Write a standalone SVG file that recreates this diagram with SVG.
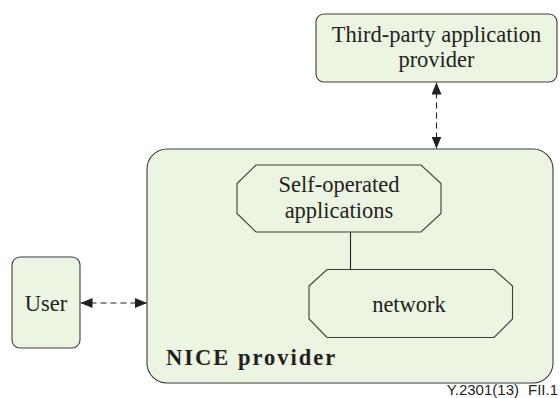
<svg xmlns="http://www.w3.org/2000/svg" width="560" height="398" viewBox="0 0 560 398">
  <defs>
    <marker id="arrow" viewBox="0 0 12 10" refX="12" refY="5" markerWidth="12" markerHeight="10" markerUnits="userSpaceOnUse" orient="auto-start-reverse">
      <path d="M0,0 L12,5 L0,10 Z" fill="#231f20"/>
    </marker>
    <style>
      .box { fill: #ecf5e1; stroke: #3c3c3c; stroke-width: 1.1; }
      .serif { font-family: 'Liberation Serif', 'Times New Roman', serif; }
      .lbl { font-size: 22.5px; fill: #231f20; text-anchor: middle; }
      .bold { font-size: 22.5px; font-weight: bold; fill: #231f20; letter-spacing: 2px; }
      .link { fill: none; stroke: #231f20; stroke-width: 1.1; }
      .dash { stroke-dasharray: 6 4; }
      .foot { font-family: 'Liberation Sans', Arial, sans-serif; font-size: 15px; fill: #231f20; text-anchor: end; }
    </style>
  </defs>

  <g id="nice-provider">
    <rect class="box" x="147" y="149" width="406" height="234" rx="20" ry="20"/>
    <text class="serif bold" x="166" y="365">NICE provider</text>
  </g>

  <g id="third-party">
    <rect class="box" x="316" y="14" width="241" height="68" rx="8" ry="8"/>
    <text class="serif lbl" x="436.5" y="42">Third-party application</text>
    <text class="serif lbl" x="436.5" y="67">provider</text>
  </g>

  <g id="user">
    <rect class="box" x="12" y="257" width="68" height="91" rx="8" ry="8"/>
    <text class="serif lbl" x="46" y="311">User</text>
  </g>

  <g id="self-operated">
    <polygon class="box" points="256,165 421,165 441,183.5 441,213.5 421,232 256,232 237,213.5 237,183.5"/>
    <text class="serif lbl" x="339" y="192">Self-operated</text>
    <text class="serif lbl" x="339" y="218">applications</text>
  </g>

  <g id="network">
    <polygon class="box" points="327,269.5 494,269.5 512.5,286 512.5,319 494,337.5 327,337.5 309,319 309,286"/>
    <text class="serif lbl" x="409" y="312">network</text>
  </g>

  <g id="connectors">
    <line class="link dash" x1="436.5" y1="82.5" x2="436.5" y2="148.5" marker-start="url(#arrow)" marker-end="url(#arrow)"/>
    <line class="link dash" x1="80.5" y1="303" x2="147" y2="303" marker-start="url(#arrow)" marker-end="url(#arrow)"/>
    <line class="link" x1="350.5" y1="232" x2="350.5" y2="269.5"/>
  </g>

  <text class="foot" x="558" y="395">Y.2301(13)<tspan dx="9">FII.1</tspan></text>
</svg>
